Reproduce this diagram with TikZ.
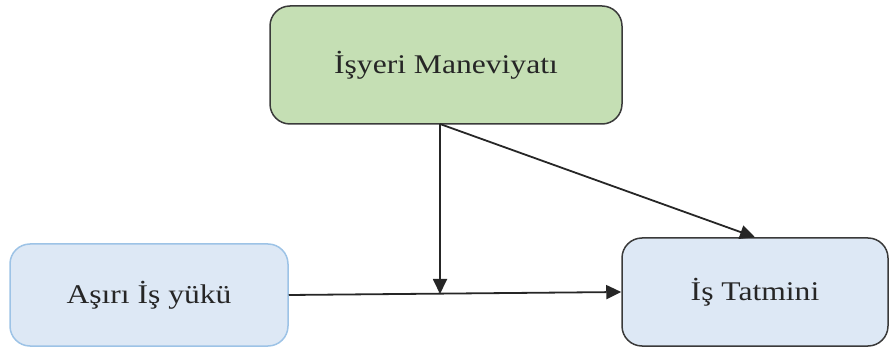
\documentclass[tikz,border=0pt]{standalone}
\usepackage{fontspec}
\setmainfont{Liberation Serif}
\newfontfamily\labelfont[FakeStretch=1.17]{Liberation Serif}
\usetikzlibrary{arrows.meta}
\definecolor{greenfill}{HTML}{C5DFB4}
\definecolor{bluefill}{HTML}{DDE8F5}
\definecolor{blueedge}{HTML}{9DC3E6}
\definecolor{darkedge}{HTML}{3A3A3A}
\begin{document}
\begin{tikzpicture}[x=1pt,y=1pt,
  box/.style={rectangle, rounded corners=20pt, line width=1.5pt, font=\labelfont\fontsize{27}{32}\selectfont, text=black!85},
  conn/.style={line width=1.8pt, draw=black!85, -{Triangle[length=15pt,width=14pt]}}]
\useasboundingbox (0,0) rectangle (889,351);
\node[box, fill=greenfill, draw=darkedge, minimum width=352pt, minimum height=118pt] (moral) at (446,286) {İşyeri Maneviyatı};
\node[box, fill=bluefill, draw=blueedge, minimum width=278pt, minimum height=102pt] (load) at (149,56) {Aşırı İş yükü};
\node[box, fill=bluefill, draw=darkedge, minimum width=266pt, minimum height=108pt] (sat) at (755,59) {İş Tatmini};
\coordinate (top) at (440,227);
\coordinate (mid) at (440,57);
\draw[conn] (load.east) -- (sat.west);
\draw[conn] (top) -- (mid);
\draw[conn] (top) -- (sat.north);
\end{tikzpicture}
\end{document}
